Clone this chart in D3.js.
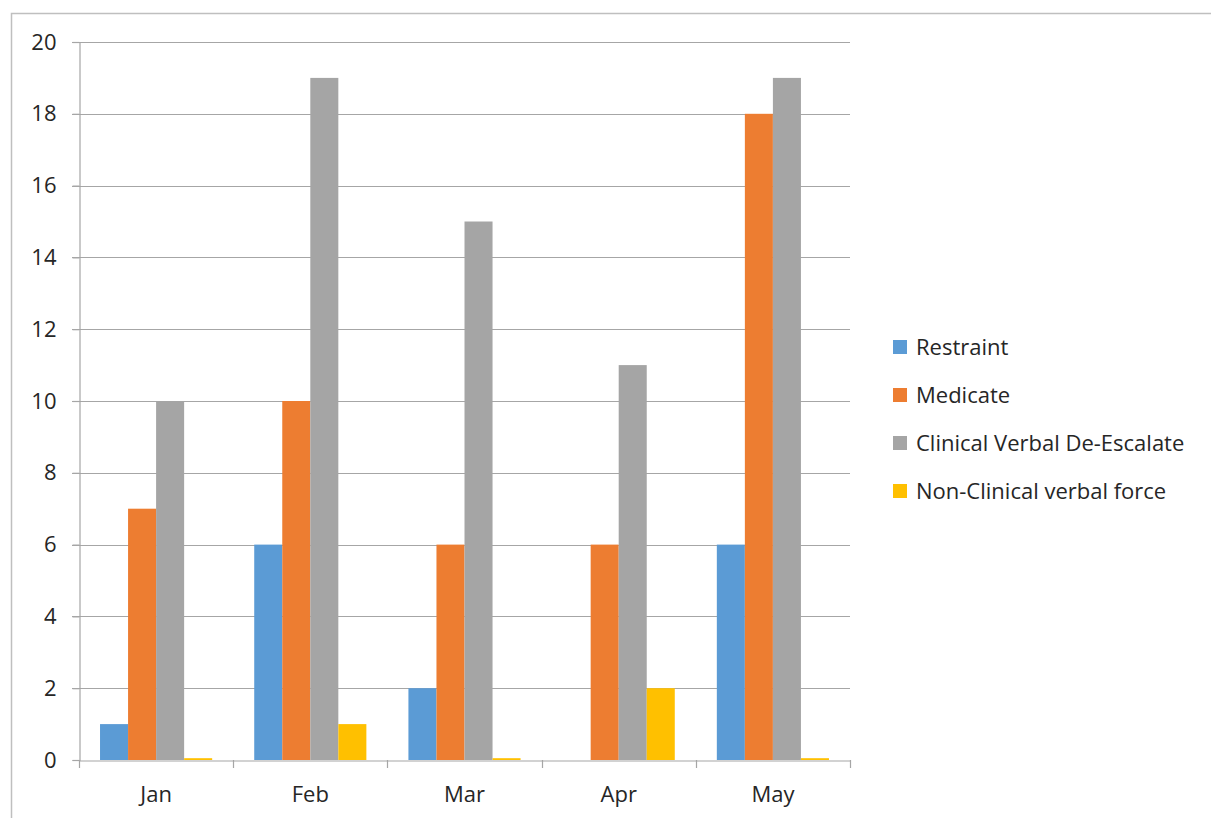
<!DOCTYPE html>
<html>
<head>
<meta charset="utf-8">
<script src="https://cdn.jsdelivr.net/npm/d3@7"></script>
<style>
  html, body { margin: 0; padding: 0; background: #fff; }
  svg { display: block; font-family: "Open Sans", "Liberation Sans", sans-serif; }
</style>
</head>
<body>
<svg id="chart" width="1211" height="818"></svg>
<script>
// Monthly counts by intervention type
const months = ["Jan", "Feb", "Mar", "Apr", "May"];
const seriesNames = ["Restraint", "Medicate", "Clinical Verbal De-Escalate", "Non-Clinical verbal force"];
const restraint = [1, 6, 2, 0, 6];
const medicate = [7, 10, 6, 6, 18];
const clinicalVerbal = [10, 19, 15, 11, 19];
const nonClinicalVerbal = [0.05, 1, 0.05, 2, 0.05];
const yTicks = [0, 2, 4, 6, 8, 10, 12, 14, 16, 18, 20];
const colors = ["#5b9bd5", "#ed7d31", "#a5a5a5", "#ffc000"];

const seriesValues = [restraint, medicate, clinicalVerbal, nonClinicalVerbal];
const FONT_SIZE = 22;
const TEXT = "#262626";
const AXIS = "#a6a6a6";

const svg = d3.select("#chart");

// outer chart frame
svg.append("rect")
  .attr("x", 11.5).attr("y", 13.5)
  .attr("width", 1230).attr("height", 830)
  .attr("fill", "none").attr("stroke", "#bfbfbf").attr("stroke-width", 1.5);

const plot = { left: 79, right: 850, top: 42, bottom: 760 };

const x = d3.scaleBand().domain(months).range([plot.left, plot.right]).padding(0);
const y = d3.scaleLinear().domain([0, 20]).range([plot.bottom, plot.top]);

// bar width based on 150% gap between groups
const barW = x.bandwidth() / (seriesNames.length + 1.5);
const xs = d3.scaleBand().domain(d3.range(seriesNames.length))
  .range([barW * 0.75, barW * 0.75 + barW * seriesNames.length]).padding(0);

// horizontal gridlines
svg.append("g")
  .selectAll("line")
  .data(yTicks.filter(t => t > 0))
  .join("line")
  .attr("x1", plot.left - 7).attr("x2", plot.right)
  .attr("y1", d => Math.round(y(d)) + 0.5).attr("y2", d => Math.round(y(d)) + 0.5)
  .attr("stroke", AXIS).attr("stroke-width", 1.2);

// y axis
const yAxis = d3.axisLeft(y).tickValues(yTicks).tickSize(7).tickPadding(16);
const gy = svg.append("g").attr("transform", `translate(${plot.left + 0.5},0)`).call(yAxis);
gy.attr("font-family", null).attr("font-size", null);
gy.select(".domain").attr("stroke", AXIS).attr("stroke-width", 1.2);
gy.selectAll(".tick line").attr("stroke", AXIS).attr("stroke-width", 1.2);
gy.selectAll(".tick text").attr("font-size", FONT_SIZE).attr("fill", TEXT);

// bars
const groups = svg.append("g")
  .selectAll("g")
  .data(months)
  .join("g")
  .attr("transform", d => `translate(${x(d)},0)`);

groups.selectAll("rect")
  .data((m, i) => seriesValues.map((vals, s) => ({ s, v: vals[i] })))
  .join("rect")
  .attr("x", d => xs(d.s))
  .attr("width", xs.bandwidth())
  .attr("y", d => y(d.v))
  .attr("height", d => y(0) - y(d.v))
  .attr("fill", d => colors[d.s]);

// x axis
const xAxis = d3.axisBottom(x).tickSize(0).tickPadding(26);
const gx = svg.append("g").attr("transform", `translate(0,${Math.round(y(0)) + 0.5})`).call(xAxis);
gx.attr("font-family", null).attr("font-size", null);
gx.select(".domain").attr("stroke", AXIS).attr("stroke-width", 1.2);
gx.selectAll(".tick text").attr("font-size", FONT_SIZE).attr("fill", TEXT);

// category boundary ticks
svg.append("g")
  .selectAll("line")
  .data(months.map(m => x(m)).concat([plot.right]))
  .join("line")
  .attr("x1", d => Math.round(d) + 0.5).attr("x2", d => Math.round(d) + 0.5)
  .attr("y1", y(0)).attr("y2", y(0) + 8)
  .attr("stroke", AXIS).attr("stroke-width", 1.2);

// legend
const legend = svg.append("g").attr("transform", "translate(893,347)");
const items = legend.selectAll("g")
  .data(seriesNames)
  .join("g")
  .attr("transform", (d, i) => `translate(0,${i * 48})`);
items.append("rect")
  .attr("x", 0).attr("y", -7).attr("width", 14).attr("height", 14)
  .attr("fill", (d, i) => colors[i]);
items.append("text")
  .attr("x", 23).attr("y", 0).attr("dy", "0.35em")
  .attr("font-size", FONT_SIZE).attr("fill", TEXT)
  .text(d => d);
</script>
</body>
</html>
